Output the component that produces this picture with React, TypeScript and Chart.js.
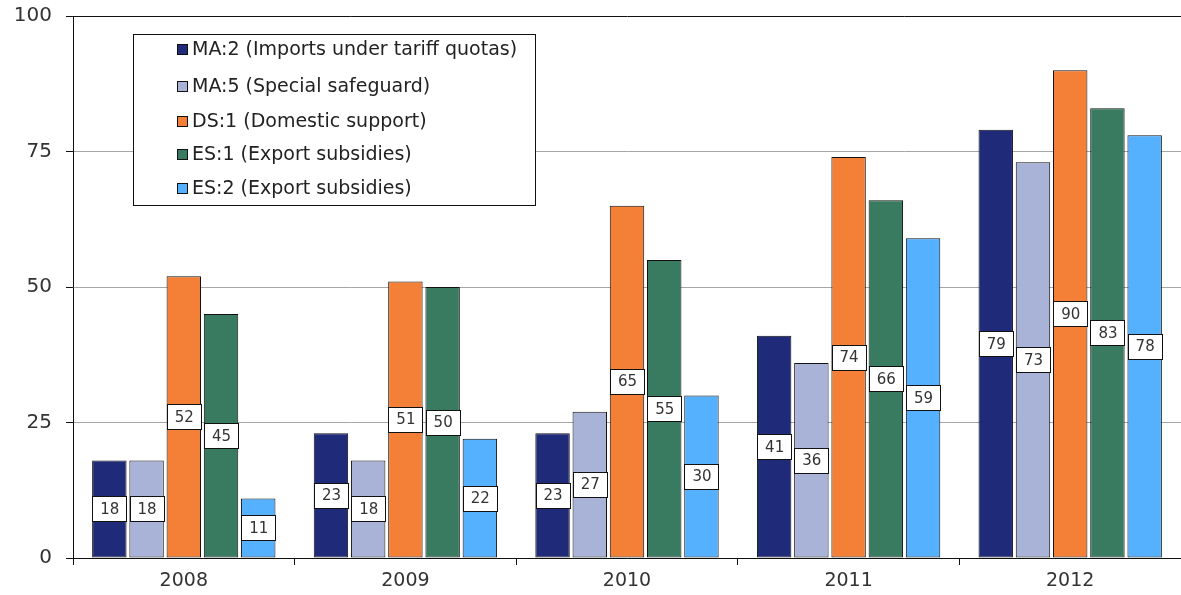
import React, { useEffect, useRef } from "react";
import { Chart, registerables } from "chart.js";

Chart.register(...registerables);

const categories = ["2008", "2009", "2010", "2011", "2012"];
const seriesNames = [
  "MA:2 (Imports under tariff quotas)",
  "MA:5 (Special safeguard)",
  "DS:1 (Domestic support)",
  "ES:1 (Export subsidies)",
  "ES:2 (Export subsidies)",
];
const ma2 = [18, 23, 23, 41, 79];
const ma5 = [18, 18, 27, 36, 73];
const ds1 = [52, 51, 65, 74, 90];
const es1 = [45, 50, 55, 66, 83];
const es2 = [11, 22, 30, 59, 78];
const yTicks = [0, 25, 50, 75, 100];

const colors = ["#1f2a78", "#a9b3d8", "#f47f36", "#387b60", "#55b1fe"];
const FONT = "'DejaVu Sans', Verdana, sans-serif";

const labelPlugin = {
  id: "valueBoxes",
  afterDatasetsDraw(chart: any) {
    const ctx = chart.ctx;
    ctx.save();
    chart.data.datasets.forEach((ds: any, di: number) => {
      const meta = chart.getDatasetMeta(di);
      meta.data.forEach((bar: any, i: number) => {
        const v = ds.data[i];
        const cx = bar.x;
        const cy = (bar.y + bar.base) / 2;
        const w = Math.round(bar.width);
        const h = 25;
        const x0 = Math.round(cx - w / 2) + 0.5;
        const y0 = Math.round(cy - h / 2) + 0.5;
        ctx.fillStyle = "#ffffff";
        ctx.fillRect(x0, y0, w, h);
        ctx.strokeStyle = "#111111";
        ctx.lineWidth = 1;
        ctx.strokeRect(x0, y0, w, h);
        ctx.fillStyle = "#333333";
        ctx.font = `15px ${FONT}`;
        ctx.textAlign = "center";
        ctx.textBaseline = "middle";
        ctx.fillText(String(v), cx + 0.5, cy + 1);
      });
    });
    ctx.restore();
  },
};

const legendPlugin = {
  id: "boxLegend",
  afterDraw(chart: any) {
    const ctx = chart.ctx;
    const ca = chart.chartArea;
    const x = ca.left + 60;
    const y = ca.top + 18;
    const w = 402;
    const h = 171;
    ctx.save();
    ctx.fillStyle = "#ffffff";
    ctx.fillRect(x, y, w, h);
    ctx.strokeStyle = "#111111";
    ctx.lineWidth = 1;
    ctx.strokeRect(x + 0.5, y + 0.5, w, h);
    const rowY = [15, 52, 87, 120, 154];
    chart.data.datasets.forEach((ds: any, i: number) => {
      const cy = y + rowY[i];
      ctx.fillStyle = ds.backgroundColor;
      ctx.fillRect(x + 44, cy - 5, 10, 10);
      ctx.strokeStyle = "#111111";
      ctx.strokeRect(x + 44.5, cy - 4.5, 10, 10);
      ctx.fillStyle = "#222222";
      ctx.font = `19px ${FONT}`;
      ctx.textAlign = "left";
      ctx.textBaseline = "middle";
      ctx.fillText(ds.label, x + 59, cy + 1);
    });
    ctx.restore();
  },
};

export default function App() {
  const ref = useRef<HTMLCanvasElement>(null);
  useEffect(() => {
    document.body.style.margin = "0";
    const series = [ma2, ma5, ds1, es1, es2];
    const chart = new Chart(ref.current!, {
      type: "bar",
      data: {
        labels: categories,
        datasets: series.map((d, i) => ({
          label: seriesNames[i],
          data: d,
          backgroundColor: colors[i],
          borderColor: "#111111",
          borderWidth: 1,
          borderSkipped: false,
          barPercentage: 0.925,
          categoryPercentage: 0.84,
        })),
      },
      options: {
        animation: false,
        responsive: true,
        maintainAspectRatio: false,
        layout: { padding: { top: 16, right: 0, left: 0, bottom: 0 } },
        plugins: { legend: { display: false }, tooltip: { enabled: false } },
        scales: {
          x: {
            grid: {
              offset: true,
              drawOnChartArea: false,
              drawTicks: true,
              tickLength: 7,
              tickColor: "#111111",
            },
            border: { color: "#111111", width: 1 },
            ticks: {
              color: "#333333",
              font: { family: FONT, size: 19 },
              padding: 5,
            },
            afterFit: (s: any) => {
              s.height = 37;
              s.paddingLeft = 0;
              s.paddingRight = 0;
            },
          },
          y: {
            min: 0,
            max: 100,
            afterBuildTicks: (s: any) => {
              s.ticks = yTicks.map((v) => ({ value: v }));
            },
            grid: {
              color: (c: any) => (c.tick && c.tick.value === 100 ? "#111111" : "#a6a6a6"),
              tickColor: "#111111",
              tickLength: 7,
            },
            border: { color: "#111111", width: 1 },
            ticks: {
              color: "#333333",
              font: { family: FONT, size: 20 },
              padding: 14,
            },
            afterFit: (s: any) => {
              s.width = 73;
              s.paddingTop = 0;
              s.paddingBottom = 0;
            },
          },
        },
      },
      plugins: [labelPlugin, legendPlugin],
    });
    return () => chart.destroy();
  }, []);
  return (
    <div style={{ position: "relative", width: 1181, height: 595 }}>
      <canvas ref={ref} />
    </div>
  );
}
